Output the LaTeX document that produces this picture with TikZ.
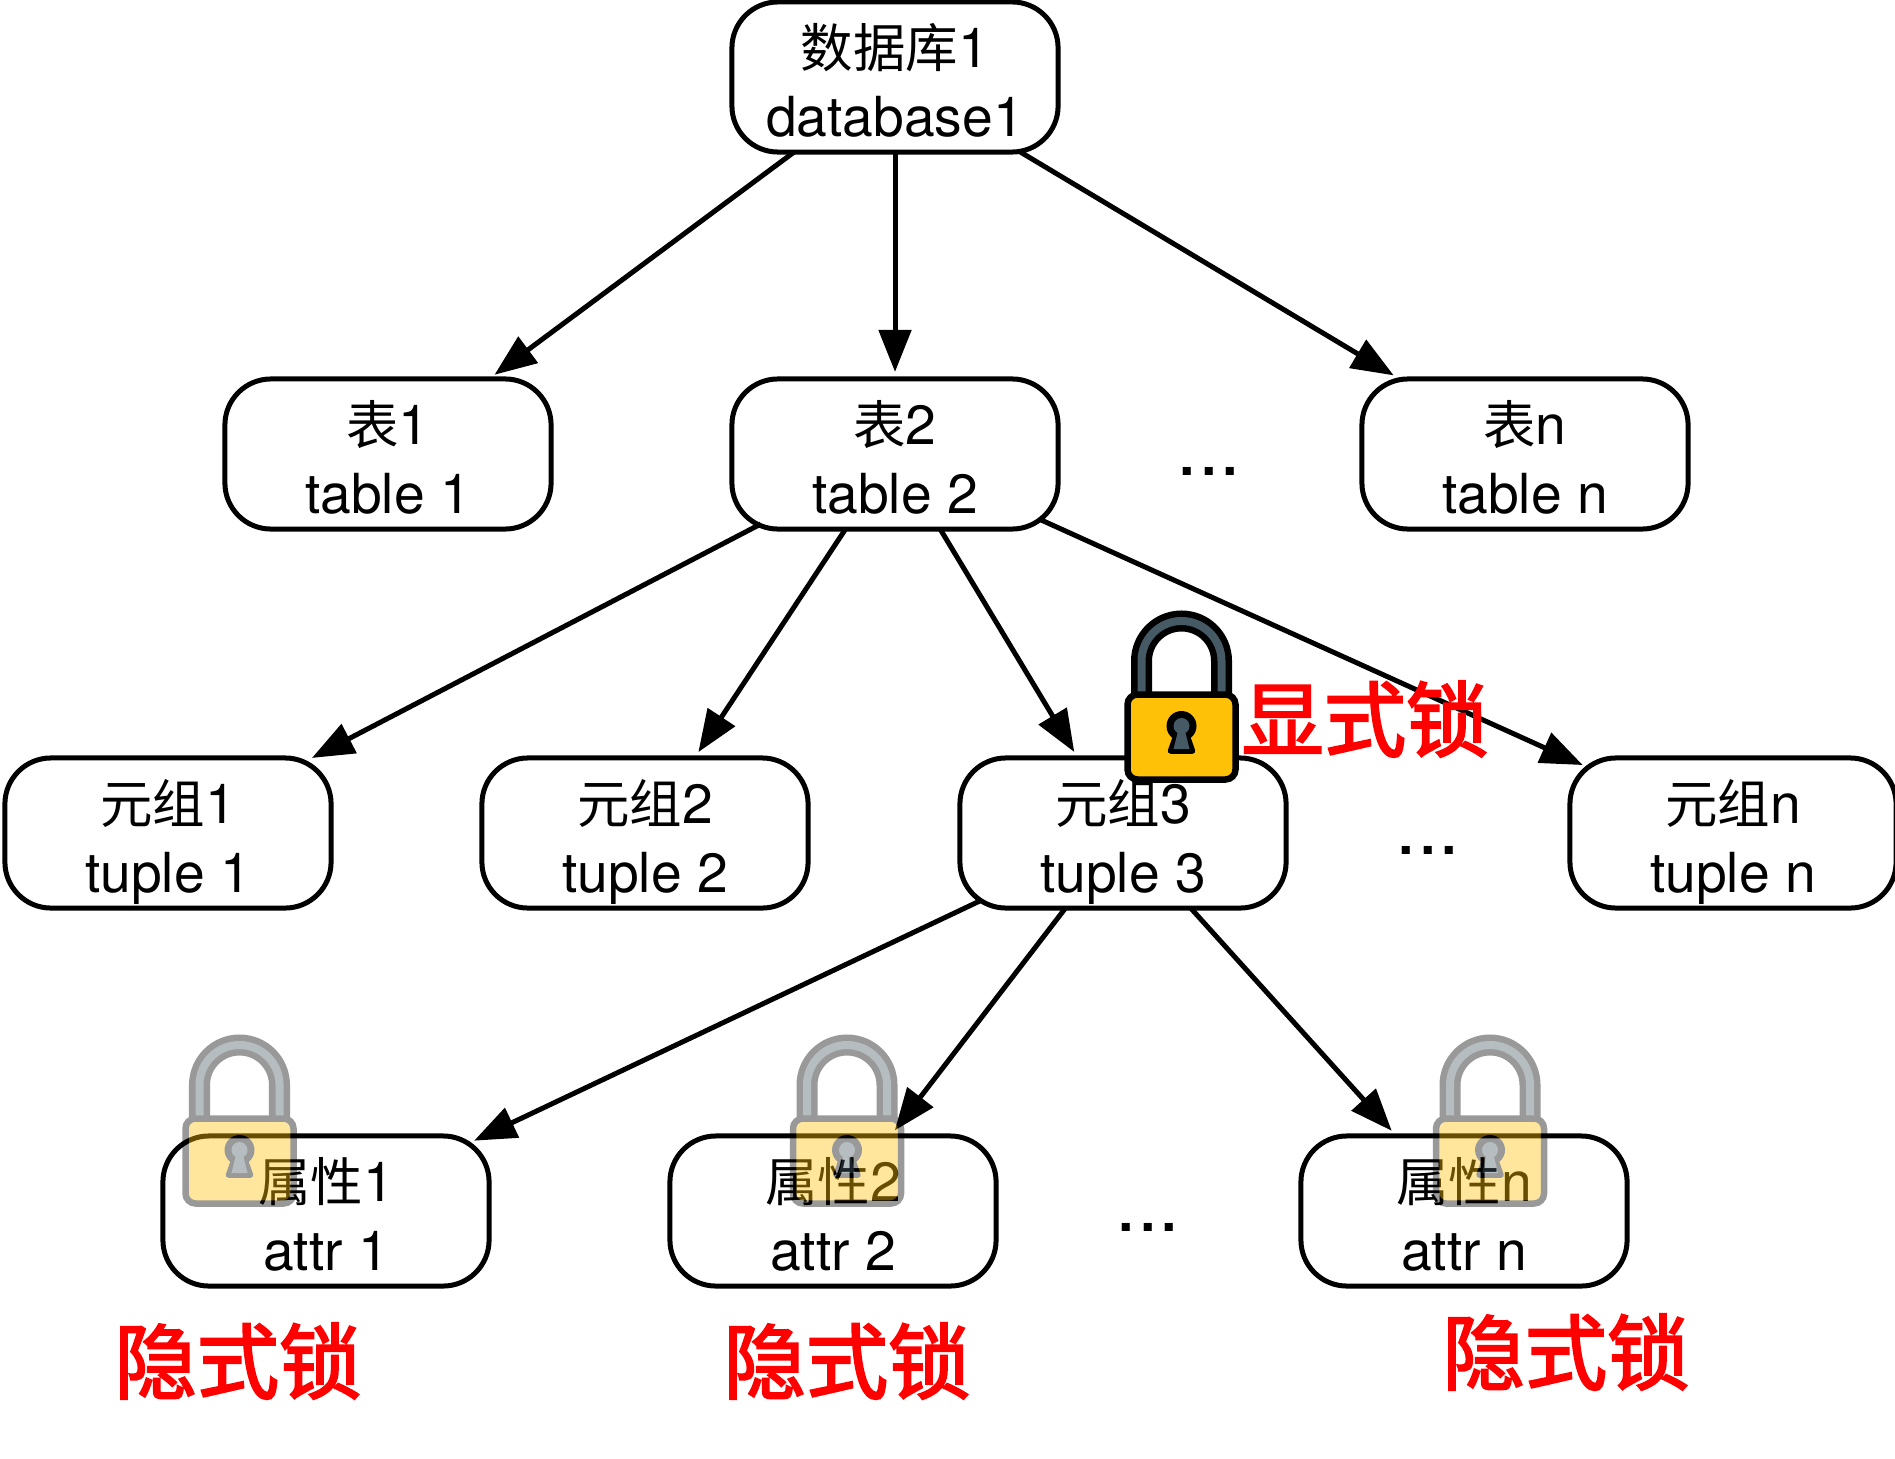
\documentclass[tikz,border=0pt]{standalone}
\usepackage{fontspec}
\setmainfont{TeX Gyre Heros}
\newfontfamily\cjk[Scale=0.95]{Noto Sans CJK SC}
\newfontfamily\markfont[FakeBold=2.5]{Noto Sans CJK SC}
\usetikzlibrary{arrows.meta}
\definecolor{slate}{HTML}{455A64}
\definecolor{lockgold}{HTML}{FFC107}
\tikzset{
  box/.style={draw,line width=0.05cm,rounded corners=0.46cm,minimum width=3.26cm,minimum height=1.5cm,
    inner sep=0pt,outer sep=0pt,align=center,text height=1.185cm,text depth=0pt,font=\fontsize{15.7}{19.6}\selectfont},
  link/.style={-{Triangle[length=0.42cm,width=0.32cm]},line width=0.05cm,shorten >=0.07cm},
  marklabel/.style={text=red,inner sep=0pt,font=\fontsize{23.4}{25}\markfont},
  gap/.style={inner sep=0pt,anchor=base,font=\fontsize{22}{24}\selectfont},
  fadedlock/.style={transparency group,opacity=0.4},
  padlock/.pic={
    \draw[line width=0.065cm,double=slate,double distance=0.08cm] (-40,-40)--(-40,-76) arc (180:360:40)--(40,-40);
    \draw[line width=0.065cm,fill=lockgold,rounded corners=0.1cm] (-54,-42.5) rectangle (54,42.5);
    \fill (0,-11) circle (15);
    \draw[line width=0.055cm,line join=round,fill=black] (-4,-6)--(4,-6)--(11,14)--(-11,14)--cycle;
    \fill[slate] (0,-11) circle (8);
    \fill[slate] (-3,-8)--(3,-8)--(8,12)--(-8,12)--cycle;
  }
}
\begin{document}
\begin{tikzpicture}[x=0.01cm,y=-0.01cm]
  \useasboundingbox (0,0) rectangle (1895,1458);
  \node[box] (db) at (895,77) {{\cjk 数据库}1\\database1}; %root
  \node[box] (tb1) at (388,454) {{\cjk 表}1\\table 1};
  \node[box] (tb2) at (895,454) {{\cjk 表}2\\table 2};
  \node[box] (tbn) at (1525,454) {{\cjk 表}n\\table n};
  \node[box] (tp1) at (168,833) {{\cjk 元组}1\\tuple 1};
  \node[box] (tp2) at (645,833) {{\cjk 元组}2\\tuple 2};
  \node[box] (tp3) at (1123,833) {{\cjk 元组}3\\tuple 3};
  \node[box] (tpn) at (1733,833) {{\cjk 元组}n\\tuple n};
  \node[box] (at1) at (326,1211) {{\cjk 属性}1\\attr 1};
  \node[box] (at2) at (833,1211) {{\cjk 属性}2\\attr 2};
  \node[box] (atn) at (1464,1211) {{\cjk 属性}n\\attr n};
  \draw[link] (db)--(tb1);
  \draw[link] (db)--(tb2);
  \draw[link] (db)--(tbn);
  \draw[link,shorten <=-0.11cm,shorten >=0cm] (tb2)--(tp1);
  \draw[link] (tb2)--(tp2);
  \draw[link] (tb2)--(tp3);
  \draw[link,shorten <=-0.21cm,shorten >=-0.14cm] (tb2)--(tpn);
  \draw[link,shorten <=-0.17cm,shorten >=-0.11cm] (tp3)--(at1);
  \draw[link] (tp3)--(at2);
  \draw[link] (tp3)--(atn);
  \node[gap] (dots1) at (1209,475) {...}; %gaps
  \node[gap] (dots2) at (1428,854) {...};
  \node[gap] (dots3) at (1148,1231) {...};
  \pic at (1181.5,737) {padlock}; %locks
  \begin{scope}[fadedlock]
    \pic at (239.5,1161) {padlock};
  \end{scope}
  \begin{scope}[fadedlock]
    \pic at (847,1161) {padlock};
  \end{scope}
  \begin{scope}[fadedlock]
    \pic at (1490,1161) {padlock};
  \end{scope}
  \node[marklabel] (mark0) at (1365,719) {显式锁};
  \node[marklabel] (mark1) at (238,1361) {隐式锁};
  \node[marklabel] (mark2) at (847,1361) {隐式锁};
  \node[marklabel] (mark3) at (1566,1352) {隐式锁};
\end{tikzpicture}
\end{document}
